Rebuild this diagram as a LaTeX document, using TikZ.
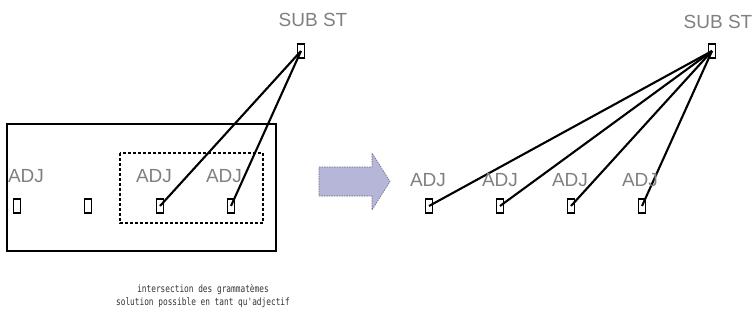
\documentclass[tikz,border=0pt]{standalone}
\usepackage{fontspec}
\setmainfont{Liberation Sans}
\newfontfamily\notefont{DejaVu Sans Mono}
\definecolor{labelgray}{RGB}{128,128,128}
\definecolor{arrowfill}{RGB}{182,182,216}
\tikzset{
  gbox/.style={draw,line width=1.2pt,minimum width=7pt,minimum height=14pt,inner sep=0pt},
  cat/.style={text=labelgray,font=\fontsize{19}{20}\selectfont,inner sep=0pt,anchor=base},
  link/.style={line width=2.1pt},
}
\begin{document}
\begin{tikzpicture}[x=1pt,y=-1pt]
\useasboundingbox (0,0) rectangle (754,322);
% left: all adjectives
\draw[line width=2.8pt] (7,124) rectangle (276,251);
\draw[line width=2.2pt,dash pattern=on 3pt off 2pt] (120,153) rectangle (263,223);
\node[cat] (subL) at (313,26) {SUB ST};
\node[gbox] (sL) at (301,51) {};
\foreach \x [count=\n] in {17,88,160,231}{
  \node[gbox] (aL\n) at (\x,206) {};
}
\foreach \x [count=\n] in {26,154,224}{
  \node[cat] (adjL\n) at (\x,182.5) {ADJ};
}
\draw[link] (sL.center) -- (aL3.center);
\draw[link] (sL.center) -- (aL4.center);
% block arrow
\draw[arrowfill!60!black,fill=arrowfill,line width=.6pt,dash pattern=on 1.5pt off 1pt]
  (319,167) -- (372,167) -- (372,153) -- (390,181.5) -- (372,210) -- (372,196) -- (319,196) -- cycle;
% right: one noun, four adjectives
\node[cat] (subR) at (718,28) {SUB ST};
\node[gbox] (sR) at (712,51) {};
\foreach \x [count=\n] in {429,500,571,642}{
  \node[gbox] (aR\n) at (\x,206) {};
  \draw[link] (sR.center) -- (aR\n.center);
}
\foreach \x [count=\n] in {428,500,570,640}{
  \node[cat] (adjR\n) at (\x,186) {ADJ};
}
\node[font=\notefont\fontsize{7.8}{10}\selectfont,text=black!80,align=center,yscale=1.3] (note) at (203,296)
  {intersection des grammatèmes\\solution possible en tant qu'adjectif};
\end{tikzpicture}
\end{document}
